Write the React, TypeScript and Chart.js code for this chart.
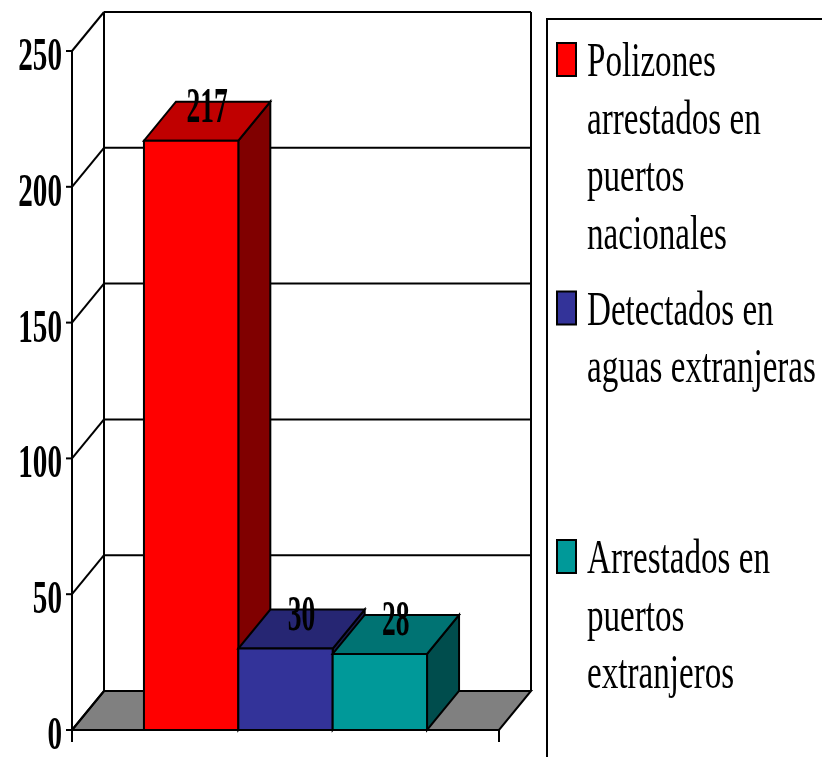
import React, { useEffect, useRef } from "react";
import { Chart, registerables } from "chart.js";

Chart.register(...registerables);

const categories = [""];
const seriesLabels: string[][] = [
  ["Polizones", "arrestados en", "puertos", "nacionales"],
  ["Detectados en", "aguas extranjeras"],
  ["Arrestados en", "puertos", "extranjeros"],
];
const seriesValues = [217, 30, 28];
const yTicks = [0, 50, 100, 150, 200, 250];

const frontColors = ["#FF0000", "#333399", "#009999"];
const topColors = ["#C00000", "#262673", "#007373"];
const sideColors = ["#800000", "#1A1A4D", "#004D4D"];

const DX = 32;
const DY = -39;
const FONT = "'Liberation Serif', 'Times New Roman', serif";

function scaledText(
  ctx: CanvasRenderingContext2D,
  text: string,
  x: number,
  y: number,
  sx: number,
  font: string,
  align: CanvasTextAlign
) {
  ctx.save();
  ctx.translate(x, y);
  ctx.scale(sx, 1);
  ctx.font = font;
  ctx.textAlign = align;
  ctx.textBaseline = "alphabetic";
  ctx.fillStyle = "#000";
  ctx.fillText(text, 0, 0);
  ctx.restore();
}

function poly(ctx: CanvasRenderingContext2D, pts: number[][], fill: string | null) {
  ctx.beginPath();
  ctx.moveTo(pts[0][0], pts[0][1]);
  for (let i = 1; i < pts.length; i++) ctx.lineTo(pts[i][0], pts[i][1]);
  ctx.closePath();
  if (fill) {
    ctx.fillStyle = fill;
    ctx.fill();
  }
  ctx.stroke();
}

function line(ctx: CanvasRenderingContext2D, x1: number, y1: number, x2: number, y2: number) {
  ctx.beginPath();
  ctx.moveTo(x1, y1);
  ctx.lineTo(x2, y2);
  ctx.stroke();
}

const threeD = {
  id: "threeD",
  beforeDatasetsDraw(chart: any) {
    const { ctx, chartArea: a, scales } = chart;
    const ys = scales.y;
    const left = a.left;
    const right = a.right;
    const y0 = ys.getPixelForValue(0);
    const yTop = ys.getPixelForValue(yTicks[yTicks.length - 1]);
    ctx.save();
    ctx.strokeStyle = "#000";
    ctx.lineWidth = 2;
    // floor
    poly(
      ctx,
      [
        [left, y0],
        [right, y0],
        [right + DX, y0 + DY],
        [left + DX, y0 + DY],
      ],
      "#808080"
    );
    // back wall grid + side wall diagonals
    yTicks.forEach((v) => {
      const yv = ys.getPixelForValue(v);
      if (v > 0) line(ctx, left + DX, yv + DY, right + DX, yv + DY);
      line(ctx, left, yv, left + DX, yv + DY);
      line(ctx, left - 6, yv, left, yv);
    });
    line(ctx, left + DX, yTop + DY, left + DX, y0 + DY);
    line(ctx, right + DX, yTop + DY, right + DX, y0 + DY);
    // front axis
    line(ctx, left, yTop, left, y0 + 12);
    line(ctx, left, y0, right, y0);
    line(ctx, right, y0, right, y0 + 12);
    // tick labels
    yTicks.forEach((v) => {
      const yv = ys.getPixelForValue(v);
      scaledText(ctx, String(v), left - 10, yv + 19, 0.62, `bold 47px ${FONT}`, "right");
    });
    ctx.restore();
  },
  afterDatasetsDraw(chart: any) {
    const { ctx } = chart;
    ctx.save();
    ctx.strokeStyle = "#000";
    ctx.lineWidth = 2;
    const labels: { x: number; y: number; t: string }[] = [];
    chart.data.datasets.forEach((ds: any, i: number) => {
      const meta = chart.getDatasetMeta(i);
      meta.data.forEach((el: any, j: number) => {
        const { x, y, base, width } = el.getProps(["x", "y", "base", "width"], true);
        const l = x - width / 2;
        const r = x + width / 2;
        poly(
          ctx,
          [
            [r, y],
            [r + DX, y + DY],
            [r + DX, base + DY],
            [r, base],
          ],
          sideColors[i]
        );
        poly(
          ctx,
          [
            [l, y],
            [r, y],
            [r + DX, y + DY],
            [l + DX, y + DY],
          ],
          topColors[i]
        );
        poly(
          ctx,
          [
            [l, y],
            [r, y],
            [r, base],
            [l, base],
          ],
          frontColors[i]
        );
        labels.push({ x: x + DX / 2, y: y + DY / 2, t: String(ds.data[j]) });
      });
    });
    labels.forEach((lb) => scaledText(ctx, lb.t, lb.x, lb.y + 1, 0.55, `bold 50px ${FONT}`, "center"));
    ctx.restore();
  },
  afterDraw(chart: any) {
    const { ctx } = chart;
    ctx.save();
    ctx.strokeStyle = "#000";
    ctx.lineWidth = 2;
    ctx.strokeRect(547, 19, 400, 900);
    seriesLabels.forEach((lines, i) => {
      const base = 76 + i * 248.5;
      ctx.fillStyle = frontColors[i];
      ctx.fillRect(557, base - 33, 19, 33);
      ctx.strokeRect(557, base - 33, 19, 33);
      lines.forEach((t, k) => {
        scaledText(ctx, t, 587, base + k * 57.5, 0.69, `48px ${FONT}`, "left");
      });
    });
    ctx.restore();
  },
};

export default function App() {
  const ref = useRef<HTMLCanvasElement>(null);
  useEffect(() => {
    if (!ref.current) return;
    const chart = new Chart(ref.current, {
      type: "bar",
      data: {
        labels: categories,
        datasets: seriesValues.map((v, i) => ({
          label: seriesLabels[i].join(" "),
          data: [v],
          backgroundColor: frontColors[i],
          borderWidth: 0,
          categoryPercentage: 0.663,
          barPercentage: 1,
        })),
      },
      options: {
        animation: false,
        responsive: false,
        layout: { padding: { left: 72, right: 323, top: 51, bottom: 27 } },
        plugins: { legend: { display: false }, tooltip: { enabled: false } },
        scales: {
          x: { display: false },
          y: { display: false, min: 0, max: 250 },
        },
      },
      plugins: [threeD],
    });
    return () => chart.destroy();
  }, []);
  return (
    <div style={{ position: "fixed", left: 0, top: 0, width: 822, height: 757, background: "#fff" }}>
      <canvas ref={ref} width={822} height={757} style={{ width: 822, height: 757 }} />
    </div>
  );
}
